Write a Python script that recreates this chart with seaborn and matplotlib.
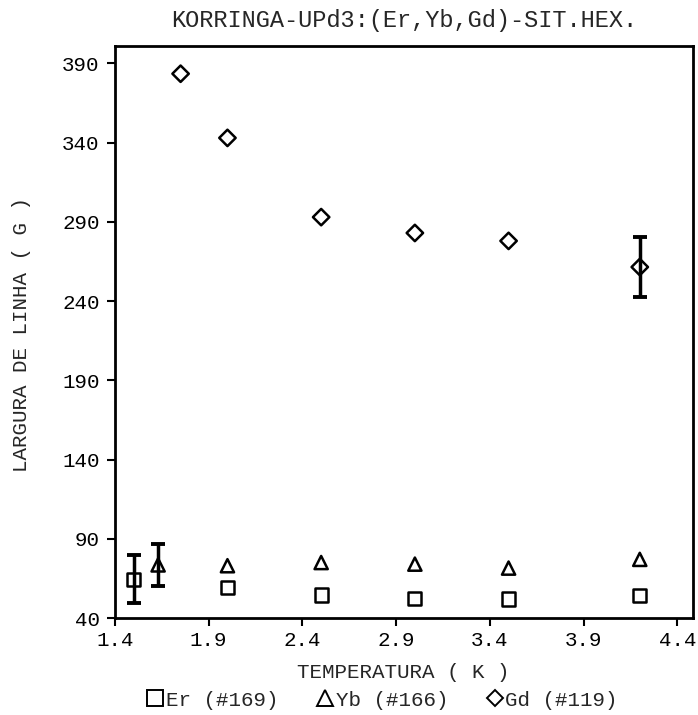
import matplotlib
matplotlib.use("Agg")
import matplotlib.pyplot as plt
from matplotlib.lines import Line2D
import numpy as np
import pandas as pd
import seaborn as sns

# Temperaturas (K) e larguras de linha (G) para cada amostra
temp_er = [1.50, 2.00, 2.50, 3.00, 3.50, 4.20]
larg_er = [64.5, 59.5, 54.5, 52.5, 52.0, 54.0]
erro_er = [15.0, 0.0, 0.0, 0.0, 0.0, 0.0]

temp_yb = [1.63, 2.00, 2.50, 3.00, 3.50, 4.20]
larg_yb = [73.5, 73.0, 75.0, 74.0, 71.5, 77.0]
erro_yb = [13.5, 0.0, 0.0, 0.0, 0.0, 0.0]

temp_gd = [1.75, 2.00, 2.50, 3.00, 3.50, 4.20]
larg_gd = [383.5, 343.0, 293.0, 283.0, 278.0, 261.5]
erro_gd = [0.0, 0.0, 0.0, 0.0, 0.0, 19.0]

rotulos = ["Er (#169)", "Yb (#166)", "Gd (#119)"]
marcadores = ["s", "^", "D"]
tamanhos = [90, 90, 70]

xticks = [1.4, 1.9, 2.4, 2.9, 3.4, 3.9, 4.4]
yticks = [40, 90, 140, 190, 240, 290, 340, 390]

titulo = "KORRINGA-UPd3:(Er,Yb,Gd)-SIT.HEX."
rotulo_x = "TEMPERATURA ( K )"
rotulo_y = "LARGURA DE LINHA ( G )"

sns.set_theme(style="white")
plt.rcParams["font.family"] = ["Liberation Mono", "DejaVu Sans Mono", "DejaVu Sans"]

fig = plt.figure(figsize=(6.98, 7.15), dpi=100)
W, H = 698, 715
left, right, top, bottom = 115, 693, 46, 618
ax = fig.add_axes([left / W, 1 - bottom / H, (right - left) / W, (bottom - top) / H])

series = [
    (temp_er, larg_er, erro_er),
    (temp_yb, larg_yb, erro_yb),
    (temp_gd, larg_gd, erro_gd),
]

for (t, l, e), rot, mk, s in zip(series, rotulos, marcadores, tamanhos):
    df = pd.DataFrame({"T": t, "L": l})
    sns.scatterplot(data=df, x="T", y="L", marker=mk, s=s, facecolor="none",
                    edgecolor="black", linewidth=1.8, ax=ax, zorder=3)
    ex = [ti for ti, ei in zip(t, e) if ei > 0]
    ey = [li for li, ei in zip(l, e) if ei > 0]
    ee = [ei for ei in e if ei > 0]
    if ex:
        ax.errorbar(ex, ey, yerr=ee, fmt="none", ecolor="black", elinewidth=2.5,
                    capsize=5, capthick=2.8, zorder=2)

ax.set_xlim(1.4, 4.484)
ax.set_ylim(40, 401)
ax.set_xticks(xticks)
ax.set_xticklabels([f"{v:.1f}" for v in xticks])
ax.set_yticks(yticks)
ax.set_yticklabels([str(v) for v in yticks])
ax.set_xlabel("")
ax.set_ylabel("")
ax.tick_params(axis="both", direction="out", length=6, width=1.5, colors="black",
               labelsize=15, bottom=True, left=True)
ax.tick_params(axis="x", pad=3)
ax.tick_params(axis="y", pad=5)
for sp in ax.spines.values():
    sp.set_visible(True)
    sp.set_color("black")
    sp.set_linewidth(2.0)

fig.text(404 / W, 1 - 20 / H, titulo, ha="center", va="center", fontsize=17)
fig.text(403 / W, 1 - 673 / H, rotulo_x, ha="center", va="center", fontsize=15)
fig.text(22 / W, 1 - 334 / H, rotulo_y, ha="center", va="center", rotation=90, fontsize=15)

handles = [Line2D([], [], linestyle="none", marker=mk, markersize=11 if mk != "D" else 8,
                  markerfacecolor="none", markeredgecolor="black", markeredgewidth=1.4)
           for mk in marcadores]
fig.legend(handles, rotulos, loc="center", bbox_to_anchor=(383 / W, 1 - 700 / H),
           ncol=3, frameon=False, fontsize=15, handlelength=0.7, handletextpad=0.15,
           columnspacing=1.9, borderpad=0)

fig.savefig("out.png", dpi=100, facecolor="white")
